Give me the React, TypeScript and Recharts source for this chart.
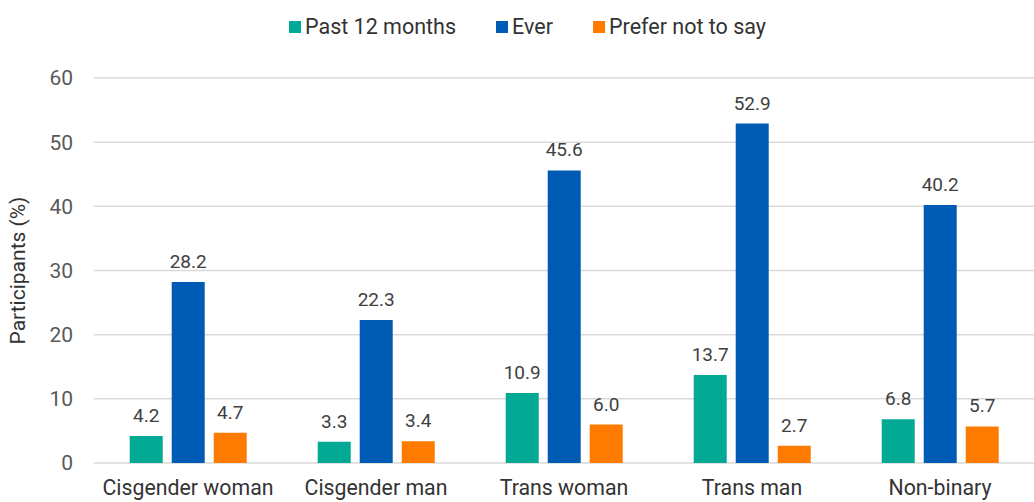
import { BarChart, Bar, XAxis, YAxis, CartesianGrid, Legend, LabelList } from "recharts";

const categories = ["Cisgender woman", "Cisgender man", "Trans woman", "Trans man", "Non-binary"];
const past12 = [4.2, 3.3, 10.9, 13.7, 6.8];
const ever = [28.2, 22.3, 45.6, 52.9, 40.2];
const preferNot = [4.7, 3.4, 6.0, 2.7, 5.7];
const yTicks = [0, 10, 20, 30, 40, 50, 60];

const series = [
  { key: "past12", name: "Past 12 months", color: "#02A995" },
  { key: "ever", name: "Ever", color: "#005BB5" },
  { key: "preferNot", name: "Prefer not to say", color: "#FF7B00" },
];

const data = categories.map((c, i) => ({
  category: c,
  past12: past12[i],
  ever: ever[i],
  preferNot: preferNot[i],
}));

const font = "Roboto, 'Noto Sans', sans-serif";

function LegendContent() {
  return (
    <div
      style={{
        display: "flex",
        justifyContent: "center",
        gap: 40,
        paddingLeft: 21,
        paddingTop: 1,
        fontFamily: font,
        fontSize: 21.5,
        color: "#333",
        lineHeight: "26px",
      }}
    >
      {series.map((s) => (
        <div key={s.key} style={{ display: "flex", alignItems: "center" }}>
          <span style={{ width: 12, height: 12, background: s.color, display: "inline-block", marginRight: 4 }} />
          <span>{s.name}</span>
        </div>
      ))}
    </div>
  );
}

export default function App() {
  return (
    <div style={{ position: "absolute", left: 0, top: 0, background: "#fff" }}>
      <BarChart
        width={1034}
        height={502}
        data={data}
        margin={{ top: 13, right: 0, left: 0, bottom: 9 }}
        barCategoryGap="19%"
        barGap={9}
      >
        <CartesianGrid vertical={false} stroke="#d9d9d9" strokeWidth={1.5} />
        <XAxis
          dataKey="category"
          axisLine={false}
          tickLine={false}
          height={30}
          tickMargin={11}
          tick={{ fontSize: 21.3, fill: "#333", fontFamily: font }}
          interval={0}
        />
        <YAxis
          width={94}
          domain={[0, 60]}
          ticks={yTicks}
          axisLine={false}
          tickLine={false}
          tickSize={0}
          tickMargin={21}
          tick={{ fontSize: 21, fill: "#595959", fontFamily: font }}
          label={{
            value: "Participants (%)",
            angle: -90,
            position: "insideLeft",
            offset: 18,
            style: { textAnchor: "middle", fontSize: 21, fill: "#333", fontFamily: font },
          }}
        />
        <Legend verticalAlign="top" height={65} content={<LegendContent />} />
        {series.map((s) => (
          <Bar key={s.key} dataKey={s.key} name={s.name} fill={s.color} isAnimationActive={false}>
            <LabelList
              dataKey={s.key}
              position="top"
              offset={14}
              formatter={(v: any) => Number(v).toFixed(1)}
              style={{ fontSize: 19, fill: "#404040", fontFamily: font }}
            />
          </Bar>
        ))}
      </BarChart>
    </div>
  );
}
